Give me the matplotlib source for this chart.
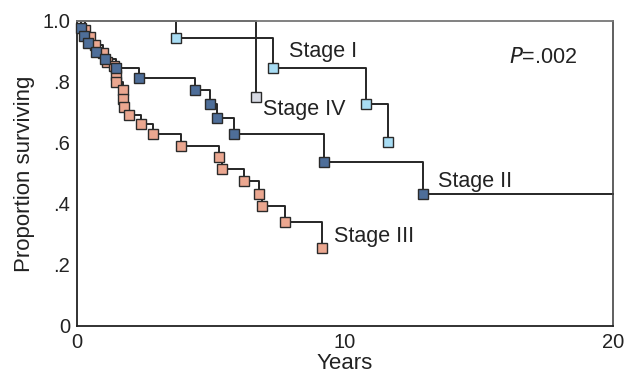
import matplotlib
matplotlib.use("Agg")
import matplotlib.pyplot as plt

plt.rcParams["font.family"] = ["Liberation Sans", "DejaVu Sans"]

# survival curves (time in years, proportion surviving)
stage1_t = [3.7, 7.3, 10.8, 11.6]
stage1_s = [0.944, 0.846, 0.728, 0.603]

stage2_t = [0.15, 0.26, 0.40, 0.72, 1.04, 1.44, 2.31, 4.41, 4.97, 5.21, 5.87, 9.23, 12.9]
stage2_s = [0.976, 0.952, 0.927, 0.897, 0.876, 0.845, 0.814, 0.774, 0.727, 0.681, 0.630, 0.537, 0.432]
stage2_end = 20

stage3_t = [0.30, 0.50, 0.66, 0.98, 1.12, 1.38, 1.44, 1.46, 1.73, 1.73, 1.75, 1.95, 2.39, 2.82,
            3.88, 5.30, 5.40, 6.23, 6.79, 6.90, 7.76, 9.14]
stage3_s = [0.972, 0.948, 0.922, 0.895, 0.867, 0.852, 0.824, 0.801, 0.774, 0.744, 0.719, 0.692,
            0.661, 0.630, 0.591, 0.555, 0.514, 0.474, 0.433, 0.394, 0.342, 0.257]

stage4_t = [6.68]
stage4_s = [0.752]

yticks = [0, 0.2, 0.4, 0.6, 0.8, 1.0]
ytick_labels = ["0", ".2", ".4", ".6", ".8", "1.0"]
xticks = [0, 10, 20]

fig = plt.figure(figsize=(6.34, 3.77), dpi=100)
ax = fig.add_axes([0.1215, 0.1353, 0.8455, 0.809])


def km(ax, t, s, color, end=None):
    xs = [0] + list(t)
    ys = [1.0] + list(s)
    if end is not None:
        xs.append(end)
        ys.append(ys[-1])
    ax.step(xs, ys, where="post", color="#262626", lw=1.4, zorder=2, clip_on=False)
    ax.plot(t, s, ls="none", marker="s", ms=7.3, mfc=color, mec="#2a2a2a", mew=1.0,
            zorder=3, clip_on=False)


km(ax, stage3_t, stage3_s, "#eba790")
km(ax, stage2_t, stage2_s, "#4e6e99", end=stage2_end)
km(ax, stage1_t, stage1_s, "#a8ddf4")
km(ax, stage4_t, stage4_s, "#d7dae3")

ax.set_xlim(0, 20)
ax.set_ylim(0, 1.0)
ax.set_xticks(xticks)
ax.set_yticks(yticks)
ax.set_yticklabels(ytick_labels)
ax.tick_params(length=0, labelsize=14.5, colors="#222222", pad=5)
ax.set_xlabel("Years", fontsize=16, color="#222222", labelpad=1)
ax.set_ylabel("Proportion surviving", fontsize=16, color="#222222", labelpad=5)

for side in ["left", "bottom"]:
    ax.spines[side].set_color("#222222")
    ax.spines[side].set_linewidth(1.3)
ax.spines["top"].set_color("#777777")
ax.spines["top"].set_linewidth(1.3)
ax.spines["right"].set_color("#444444")
ax.spines["right"].set_linewidth(1.2)

lab = dict(fontsize=15.5, color="#222222", va="center")
ax.text(7.9, 0.9, "Stage I", **lab)
ax.text(6.95, 0.71, "Stage IV", **lab)
ax.text(13.45, 0.475, "Stage II", **lab)
ax.text(9.6, 0.295, "Stage III", **lab)
ax.text(16.1, 0.88, "$\\it{P}$=.002", **lab)

fig.savefig("out.png", dpi=100)
